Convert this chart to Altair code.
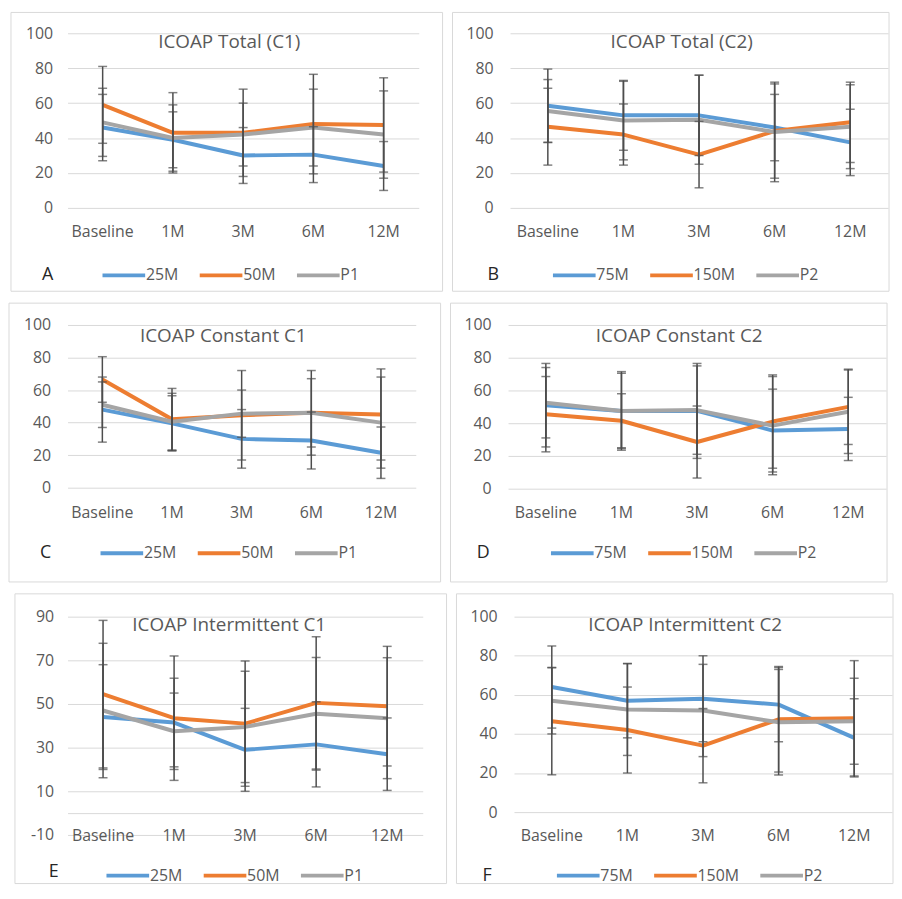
import altair as alt
import pandas as pd

FONT = "Open Sans"
LABEL = "#595959"
GRID = "#D9D9D9"
EBAR = "#4D4D4D"

TIMES = ["Baseline", "1M", "3M", "6M", "12M"]
COLORS = ["#5B9BD5", "#ED7D31", "#A5A5A5"]
SER1 = ["25M", "50M", "P1"]
SER2 = ["75M", "150M", "P2"]

# Panel A  ICOAP Total (C1)
A_MEAN = {"25M": [46, 39, 30, 30.5, 24], "50M": [59, 43, 43, 48, 47.5], "P1": [49, 40, 42, 46, 42]}
A_SD = {"25M": [19, 16, 16, 16, 14], "50M": [22, 23, 25, 28.5, 27], "P1": [19.5, 19, 18, 22, 25]}
# Panel B  ICOAP Total (C2)
B_MEAN = {"75M": [58.5, 53, 53, 46, 37.5], "150M": [46.5, 42, 30.5, 44, 49], "P2": [55.5, 50, 50.5, 43.5, 46.5]}
B_SD = {"75M": [21, 20, 23, 19, 19], "150M": [22, 17.5, 19, 27, 23], "P2": [18, 22.5, 25.5, 28.5, 24]}
# Panel C  ICOAP Constant C1
C_MEAN = {"25M": [48, 39.5, 30, 29, 21.5], "50M": [66.5, 42, 44.5, 46, 45], "P1": [51, 40.5, 45.5, 46, 40]}
C_SD = {"25M": [20, 17, 18, 17.5, 15.8], "50M": [14, 19, 27.5, 26, 28], "P1": [14, 17.5, 14.5, 21, 28]}
# Panel D  ICOAP Constant C2
D_MEAN = {"75M": [51, 47.5, 47.5, 35.5, 36.5], "150M": [45.5, 41.5, 28.5, 41, 50], "P2": [52.5, 47.5, 48, 38.5, 47]}
D_SD = {"75M": [25.5, 24, 29, 25.3, 19.3], "150M": [23, 16.5, 22, 28.5, 23], "P2": [21.5, 23, 27, 30, 25.5]}
# Panel E  ICOAP Intermittent C1
E_MEAN = {"25M": [44, 41.5, 29, 31.5, 27], "50M": [54.5, 43.5, 41, 50.5, 49], "P1": [47, 37.5, 39.5, 45.5, 43.5]}
E_SD = {"25M": [24, 20.3, 19, 19.5, 16.6], "50M": [33.8, 28.5, 28.7, 30.3, 27.4], "P1": [30.8, 17.5, 25.5, 25.8, 27.7]}
# Panel F  ICOAP Intermittent C2
F_MEAN = {"75M": [64, 57, 58, 55, 38], "150M": [46.5, 42, 34, 47.5, 48], "P2": [57, 52.5, 52, 46, 46.5]}
F_SD = {"75M": [21, 19, 22, 19, 20], "150M": [27.4, 22, 19, 27, 29.5], "P2": [17, 23.5, 23.6, 27, 22]}

Y100 = [0, 100]
Y100_TICKS = [0, 20, 40, 60, 80, 100]
Y90 = [-10, 90]
Y90_TICKS = [-10, 0, 10, 30, 50, 70, 90]


def panel(title, letter, series, means, sds, g, ydom, yvals):
    rows = []
    for s in series:
        for i, (t, m, d) in enumerate(zip(TIMES, means[s], sds[s])):
            rows.append({"time": t, "idx": i, "series": s, "mean": m, "lo": m - d, "hi": m + d})
    df = pd.DataFrame(rows)
    base = alt.Chart(df)
    yscale = alt.Scale(domain=ydom, nice=False, zero=False)
    x = alt.X("time:N", sort=TIMES, scale=alt.Scale(domain=TIMES),
              axis=alt.Axis(title=None, labelAngle=0, domain=False, ticks=False, tickSize=0,
                            grid=False, labelPadding=g["xlp"], labelBaseline="middle",
                            labelColor=LABEL, labelFont=FONT, labelFontSize=16))
    hide0 = "true" if ydom[0] < 0 else "false"
    y_axis = alt.Axis(title=None, values=yvals, grid=True, gridColor=GRID, gridWidth=1,
                      domain=False, ticks=False, tickSize=0, labelPadding=g["ylp"],
                      labelColor=LABEL, labelFont=FONT, labelFontSize=16,
                      labelExpr="datum.value == 0 && %s ? '' : replace(datum.label, '\u2212', '-')" % hide0)
    lines = base.mark_line(strokeWidth=4, strokeJoin="round").encode(
        x=x,
        y=alt.Y("mean:Q", scale=yscale, axis=y_axis),
        color=alt.Color("series:N", sort=series,
                        scale=alt.Scale(domain=series, range=COLORS),
                        legend=alt.Legend(orient="none", legendX=g["lx"], legendY=g["ly"],
                                          direction="horizontal", title=None,
                                          symbolType="M-1,0H3", symbolSize=462,
                                          symbolStrokeWidth=4, labelFont=FONT,
                                          labelFontSize=16, labelColor=LABEL,
                                          labelOffset=20, columnPadding=13)),
        order=alt.Order("idx:Q"),
    )
    rules = base.mark_rule(color=EBAR, strokeWidth=1.5).encode(
        x=x, y=alt.Y("lo:Q", scale=yscale, axis=y_axis), y2="hi:Q")
    cap_lo = base.mark_tick(color=EBAR, thickness=1.5, size=9).encode(
        x=x, y=alt.Y("lo:Q", scale=yscale, axis=y_axis))
    cap_hi = base.mark_tick(color=EBAR, thickness=1.5, size=9).encode(
        x=x, y=alt.Y("hi:Q", scale=yscale, axis=y_axis))
    l, r, t, b = g["border"]
    border = alt.Chart(pd.DataFrame({"k": [0]})).mark_rect(
        fillOpacity=0, stroke=GRID, strokeWidth=1).encode(
        x=alt.value(l), x2=alt.value(r), y=alt.value(t), y2=alt.value(b))
    ttl = alt.Chart(pd.DataFrame({"t": [title]})).mark_text(
        font=FONT, fontSize=19, color=LABEL, align="center", baseline="middle").encode(
        x=alt.value(g["tx"]), y=alt.value(g["ty"]), text="t:N")
    let = alt.Chart(pd.DataFrame({"t": [letter]})).mark_text(
        font=FONT, fontSize=18, color="#262626", align="center", baseline="middle").encode(
        x=alt.value(g["ax"]), y=alt.value(g["ay"]), text="t:N")
    return alt.layer(border, lines, rules, cap_lo, cap_hi, ttl, let).properties(
        width=g["w"], height=g["h"])


GA = dict(w=354, h=176, border=(-57, 378, -21, 260), tx=163, ty=8.5, lx=33, ly=231, ax=-20, ay=244, xlp=24, ylp=15)
GB = dict(w=381, h=176, border=(-58, 382, -21, 260), tx=173, ty=8.5, lx=41, ly=231, ax=-17, ay=244, xlp=24, ylp=17)
GC = dict(w=351, h=164, border=(-59, 376, -22, 259), tx=157, ty=11.5, lx=31, ly=217, ax=-22, ay=230, xlp=25, ylp=17)
GD = dict(w=381, h=165, border=(-58, 382, -22, 259), tx=172.5, ty=11, lx=41, ly=217, ax=-25, ay=230, xlp=24, ylp=17)
GE = dict(w=358, h=220, border=(-53, 382, -23, 269), tx=163, ty=8.5, lx=37, ly=248, ax=-14, ay=257, xlp=1, ylp=14)
GF = dict(w=381, h=197, border=(-58, 382, -23, 269), tx=172.5, ty=8, lx=41, ly=248, ax=-27, ay=261, xlp=24, ylp=17)

pA = panel("ICOAP Total (C1)", "A", SER1, A_MEAN, A_SD, GA, Y100, Y100_TICKS)
pB = panel("ICOAP Total (C2)", "B", SER2, B_MEAN, B_SD, GB, Y100, Y100_TICKS)
pC = panel("ICOAP Constant C1", "C", SER1, C_MEAN, C_SD, GC, Y100, Y100_TICKS)
pD = panel("ICOAP Constant C2", "D", SER2, D_MEAN, D_SD, GD, Y100, Y100_TICKS)
pE = panel("ICOAP Intermittent C1", "E", SER1, E_MEAN, E_SD, GE, Y90, Y90_TICKS)
pF = panel("ICOAP Intermittent C2", "F", SER2, F_MEAN, F_SD, GF, Y100, Y100_TICKS)


def row(a, b):
    return alt.hconcat(a, b, spacing=8).resolve_scale(color="independent").resolve_legend(color="independent")


chart = alt.vconcat(row(pA, pB), row(pC, pD), row(pE, pF), spacing=10).resolve_scale(
    color="independent").resolve_legend(color="independent").properties(
    padding=0, background="white").configure_view(stroke=None)

chart.save("out.html", embed_options={"renderer": "svg", "actions": False})
